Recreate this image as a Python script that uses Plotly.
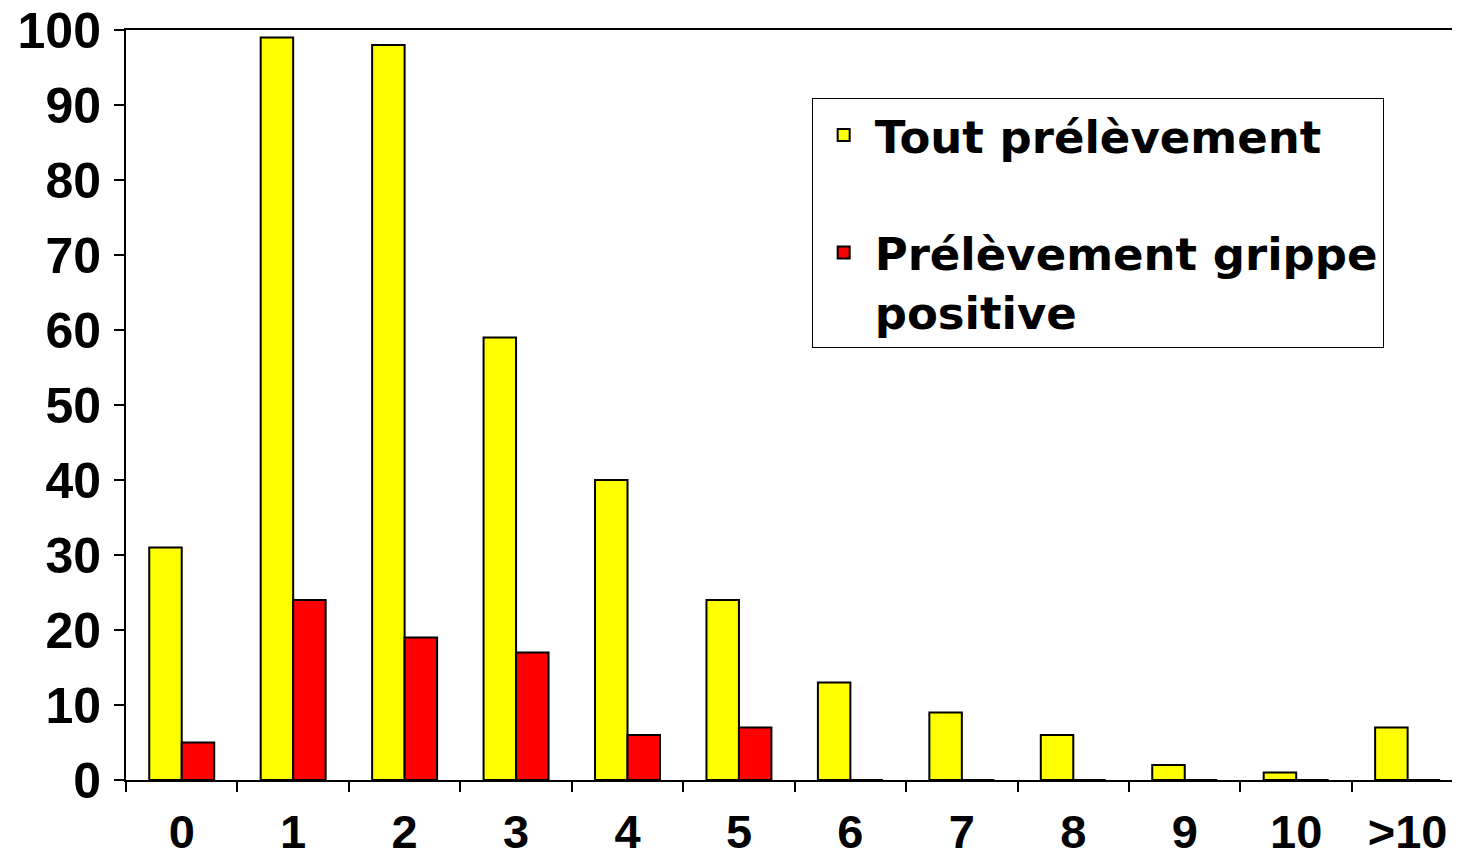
import plotly.graph_objects as go

categories = ["0", "1", "2", "3", "4", "5", "6", "7", "8", "9", "10", ">10"]
tout_prelevement = [31, 99, 98, 59, 40, 24, 13, 9, 6, 2, 1, 7]
grippe_positive = [5, 24, 19, 17, 6, 7, 0, 0, 0, 0, 0, 0]
y_ticks = [0, 10, 20, 30, 40, 50, 60, 70, 80, 90, 100]

name_tout = "Tout prélèvement"
name_grippe = "Prélèvement grippe<br>positive"

fig = go.Figure()
fig.add_trace(go.Bar(
    x=categories, y=tout_prelevement, name=name_tout,
    marker=dict(color="#FFFF00", line=dict(color="black", width=2)),
    legendgroup="a",
))
fig.add_trace(go.Bar(
    x=categories, y=grippe_positive, name=name_grippe,
    marker=dict(color="#FF0000", line=dict(color="black", width=2)),
    legendgroup="b",
))

y_font = dict(family="Liberation Sans, Arial, sans-serif", size=50, color="black", weight="bold")
x_font = dict(family="Liberation Sans, Arial, sans-serif", size=47, color="black", weight="bold")

# the page body has an 8px margin, so the figure is sized to end at the window edge
fig.update_layout(
    width=1452, height=845,
    margin=dict(l=118, r=0, t=22, b=73),
    paper_bgcolor="white", plot_bgcolor="white",
    barmode="group", bargap=0.417, bargroupgap=0,
    showlegend=True,
    legend=dict(
        x=0.514, y=0.909, xanchor="left", yanchor="top",
        bgcolor="white", bordercolor="black", borderwidth=1,
        font=dict(family="DejaVu Sans, sans-serif", size=45, color="black", weight="bold"),
        valign="top", tracegroupgap=56, itemwidth=52,
        traceorder="grouped",
    ),
    xaxis=dict(
        type="category", range=[-0.5, 11.47], automargin=False,
        showline=True, linecolor="black", linewidth=2, mirror=True,
        ticks="outside", tickson="boundaries", ticklen=10, tickwidth=2, tickcolor="black",
        tickfont=x_font, showgrid=False, zeroline=False,
        ticklabelstandoff=10, ticklabeloverflow="allow",
    ),
    yaxis=dict(
        range=[0, 100], tickvals=y_ticks, automargin=False,
        showline=True, linecolor="black", linewidth=2,
        ticks="outside", ticklen=10, tickwidth=2, tickcolor="black",
        tickfont=y_font, showgrid=False, zeroline=False,
        ticklabelstandoff=3, ticklabeloverflow="allow",
    ),
)

fig.write_html("out.html")
